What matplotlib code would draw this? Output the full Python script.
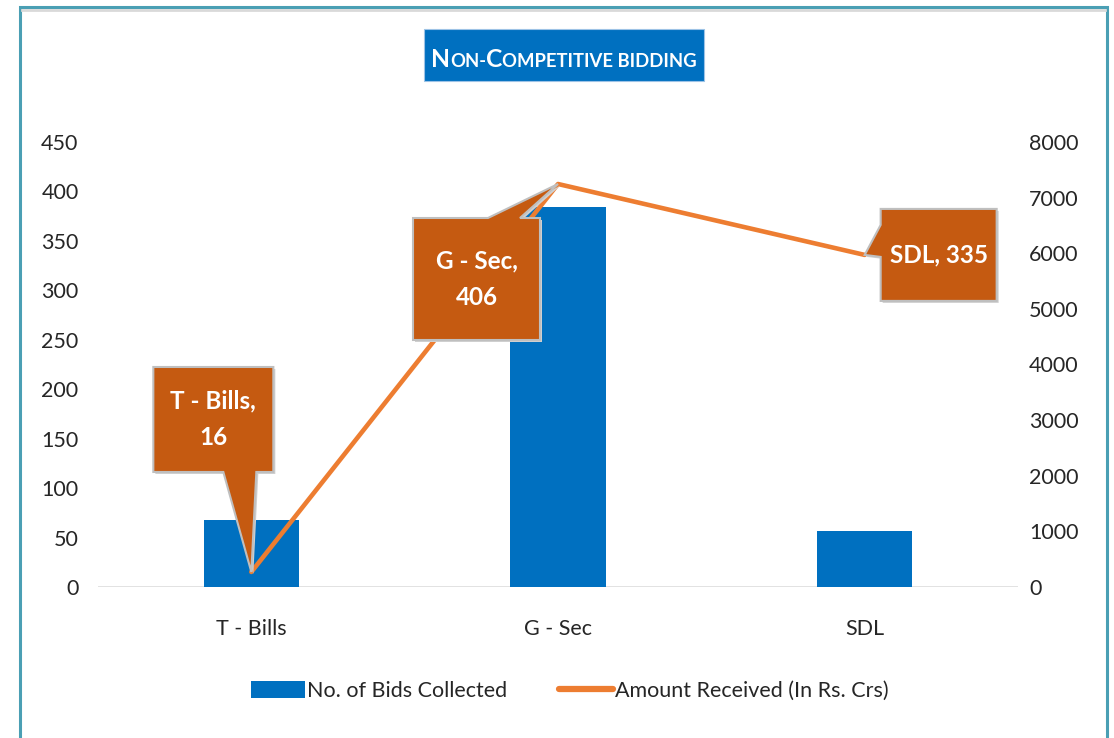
import matplotlib.pyplot as plt
from matplotlib.patches import Rectangle, Polygon
from matplotlib.lines import Line2D
from matplotlib.transforms import IdentityTransform

# data
categories = ['T - Bills', 'G - Sec', 'SDL']
bids = [68, 384, 57]
amount = [270, 7245, 5970]
callout_text = ['T - Bills,\n16', 'G - Sec,\n406', 'SDL, 335']

W, H = 1114, 738
plt.rcParams['font.family'] = ['Lato', 'DejaVu Sans']

blue = '#0070C0'
orange = '#ED7D31'
callout_col = '#C55A11'

fig = plt.figure(figsize=(W / 100, H / 100), dpi=100)

# outer frame of the chart object
fig.add_artist(Rectangle((20 / W, -0.05), 1087 / W, (H - 7) / H + 0.05,
                         transform=fig.transFigure, fill=False,
                         edgecolor='#4A9FB4', lw=2.2))
fig.add_artist(Line2D([22 / W, 1105 / W], [(H - 10) / H] * 2,
                      transform=fig.transFigure, color='#D9D9D9', lw=2))

ax = fig.add_axes([98 / W, (H - 587) / H, 920 / W, 445 / H])
ax2 = ax.twinx()

x = range(len(categories))
ax.bar(x, bids, width=0.31, color=blue, zorder=2)
ax.set_ylim(0, 450)
ax.set_yticks(range(0, 451, 50))
ax.set_xlim(-0.5, 2.5)
ax.set_xticks(list(x))
ax.set_xticklabels(categories)

ax2.plot(list(x), amount, color=orange, lw=3.3, solid_capstyle='round', zorder=3)
ax2.set_ylim(0, 8000)
ax2.set_yticks(range(0, 8001, 1000))

for a in (ax, ax2):
    for s in a.spines.values():
        s.set_visible(False)
    a.tick_params(length=0, labelsize=15.5, colors='#404040', labelcolor='#262626')
ax.tick_params(axis='y', pad=14)
ax2.tick_params(axis='y', pad=8)
ax.tick_params(axis='x', pad=23)
ax.axhline(0, color='#D9D9D9', lw=1.8, zorder=1)
ax.patch.set_visible(False)
ax2.patch.set_visible(False)

# callouts (offsets in pixels relative to each line point, y downwards)
boxes = [(-98, 22, -205, -100), (-145, -18, 34, 156), (16, 132, -46, 46)]
edges = ['bottom', 'top', 'left']
bases = [(-28, 5), (-70, -38), (-30, 2)]

for i in x:
    tx, ty = ax2.transData.transform((i, amount[i]))
    x0, x1, y0, y1 = boxes[i]
    b0, b1 = bases[i]
    if edges[i] == 'bottom':
        pts = [(x0, y0), (x1, y0), (x1, y1), (b1, y1), (0, 0), (b0, y1), (x0, y1)]
    elif edges[i] == 'top':
        pts = [(x0, y0), (b0, y0), (0, 0), (b1, y0), (x1, y0), (x1, y1), (x0, y1)]
    else:
        pts = [(x0, y0), (x1, y0), (x1, y1), (x0, y1), (x0, b1), (0, 0), (x0, b0)]
    disp = [(tx + dx, ty - dy) for dx, dy in pts]
    shadow = [(px + 2, py - 2) for px, py in disp]
    fig.add_artist(Polygon(shadow, closed=True, transform=IdentityTransform(),
                           facecolor='#D0D0D0', edgecolor='none', zorder=4))
    fig.add_artist(Polygon(disp, closed=True, transform=IdentityTransform(),
                           facecolor=callout_col, edgecolor='#BFBFBF', lw=1.5, zorder=5))
    cx, cy = tx + (x0 + x1) / 2, ty - (y0 + y1) / 2
    fig.text(cx / W, cy / H, callout_text[i], ha='center', va='center',
             color='white', fontsize=17.5, fontweight='bold', linespacing=1.7, zorder=6)

# title box with small caps text
fig.add_artist(Rectangle((424 / W, (H - 81) / H), 280 / W, 52 / H,
                         transform=fig.transFigure, facecolor=blue,
                         edgecolor='#9DC3E6', lw=0.8))
pieces = [('N', 20), ('ON-', 15), ('C', 20), ('OMPETITIVE BIDDING', 15)]
renderer = fig.canvas.get_renderer()


def measure(scale):
    ws = []
    for s, fs in pieces:
        t = fig.text(0, 0, s, fontsize=fs * scale, fontweight='bold', color='white')
        ws.append(t.get_window_extent(renderer).width)
        t.remove()
    return ws


scale = 265 / sum(measure(1.0))
widths = measure(scale)
xpos = 564 - sum(widths) / 2
for (s, fs), w in zip(pieces, widths):
    fig.text(xpos / W, (H - 67) / H, s, fontsize=fs * scale, fontweight='bold',
             color='white', va='baseline')
    xpos += w

handles = [Rectangle((0, 0), 1, 1, facecolor=blue),
           Line2D([], [], color=orange, lw=4.5, solid_capstyle='round')]
fig.legend(handles, ['No. of Bids Collected', 'Amount Received (In Rs. Crs)'],
           loc='center', bbox_to_anchor=(570 / W, (H - 691) / H), ncol=2,
           frameon=False, fontsize=15.5, handlelength=2.5, handleheight=0.85,
           handletextpad=0.12, columnspacing=2.4, labelcolor='#262626')

fig.savefig('out.png', dpi=100, facecolor='white')
